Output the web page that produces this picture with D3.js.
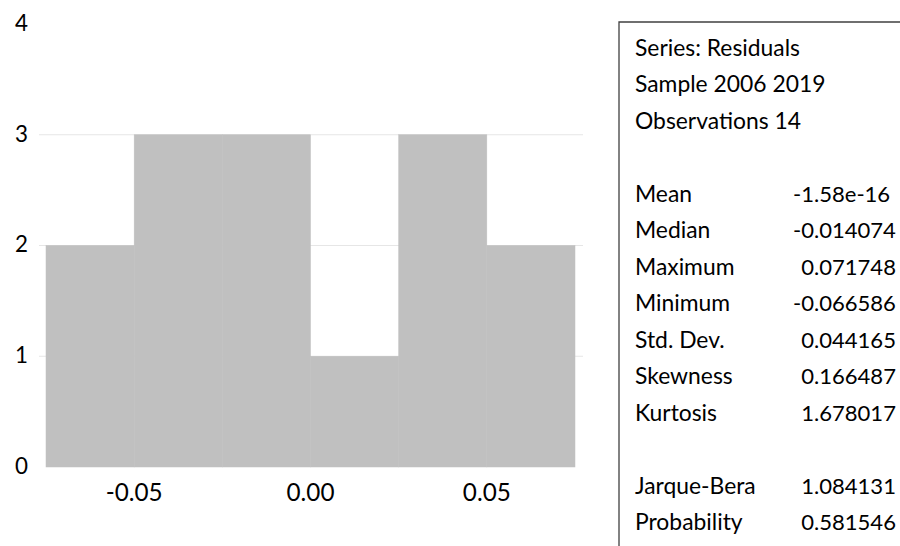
<!DOCTYPE html>
<html><head><meta charset="utf-8">
<script src="https://cdn.jsdelivr.net/npm/d3@7"></script>
<style>body{margin:0;background:#fff}svg{display:block}text{font-family:Lato,"Open Sans",sans-serif;fill:#000}</style>
</head><body><svg id="c" width="900" height="546"></svg>
<script>
const binStarts = [-0.075, -0.05, -0.025, 0.0, 0.025, 0.05];
const binWidth = 0.025;
const counts = [2, 3, 3, 1, 3, 2];
const yTicks = [0, 1, 2, 3, 4];
const xTicks = [-0.05, 0.0, 0.05];
const statLabels = ["Series: Residuals", "Sample 2006 2019", "Observations 14", "", "Mean", "Median", "Maximum", "Minimum", "Std. Dev.", "Skewness", "Kurtosis", "", "Jarque-Bera", "Probability"];
const statValues = ["", "", "", "", "-1.58e-16", "-0.014074", "0.071748", "-0.066586", "0.044165", "0.166487", "1.678017", "", "1.084131", "0.581546"];

const svg = d3.select("#c");
const x = d3.scaleLinear().domain([-0.075, 0.075]).range([46, 575]);
const y = d3.scaleLinear().domain([0, 4]).range([467, 24]);

function measure(str, size) {
  const t = svg.append("text").attr("font-size", size).text(str);
  const w = t.node().getComputedTextLength();
  t.remove();
  return w;
}
const statSize = 22 * 165 / measure("Series: Residuals", 22);
const valSize = 22 * 103 / measure("-0.014074", 22);
const xTickSize = 22 * 57 / measure("-0.05", 22);
const yTickSize = 22 * 13 / measure("0", 22);
const hyphenW = measure("-", valSize);

// gridlines
svg.append("g").selectAll("line").data(yTicks.filter(d => d > 0 && d < 4)).join("line")
  .attr("x1", 39).attr("x2", 583).attr("y1", d => y(d)).attr("y2", d => y(d))
  .attr("stroke", "#e6e6e6").attr("stroke-width", 1);

// bars
svg.append("g").selectAll("rect").data(binStarts).join("rect")
  .attr("x", d => x(d)).attr("width", d => x(d + binWidth) - x(d))
  .attr("y", (d, i) => y(counts[i])).attr("height", (d, i) => y(0) - y(counts[i]))
  .attr("fill", "#c0c0c0").attr("stroke", "#c0c0c0").attr("stroke-width", 0.5);

// y labels
svg.append("g").selectAll("text").data(yTicks).join("text")
  .attr("x", 15).attr("y", d => y(d) - 1).attr("dy", "0.35em")
  .attr("font-size", yTickSize).text(d => d3.format("d")(d));

// x labels
const fmtX = v => d3.format(".2f")(v).replace("\u2212", "-");
svg.append("g").selectAll("text").data(xTicks).join("text")
  .attr("x", d => x(d)).attr("y", 501).attr("text-anchor", "middle")
  .attr("font-size", xTickSize).text(fmtX);

// stats box
svg.append("path").attr("d", "M619,546 L619,22 L900,22").attr("fill", "none")
  .attr("stroke", "#404040").attr("stroke-width", 1.3);
const rowY = d3.scaleLinear().domain([0, 13]).range([56, 530]);
svg.append("g").selectAll("text").data(statLabels).join("text")
  .attr("x", 635).attr("y", (d, i) => rowY(i)).attr("font-size", statSize).text(d => d);
svg.append("g").selectAll("text").data(statValues).join("text")
  .attr("x", d => d.startsWith("-") ? 793 : 793 + hyphenW)
  .attr("y", (d, i) => rowY(i)).attr("font-size", valSize).text(d => d);
</script></body></html>
